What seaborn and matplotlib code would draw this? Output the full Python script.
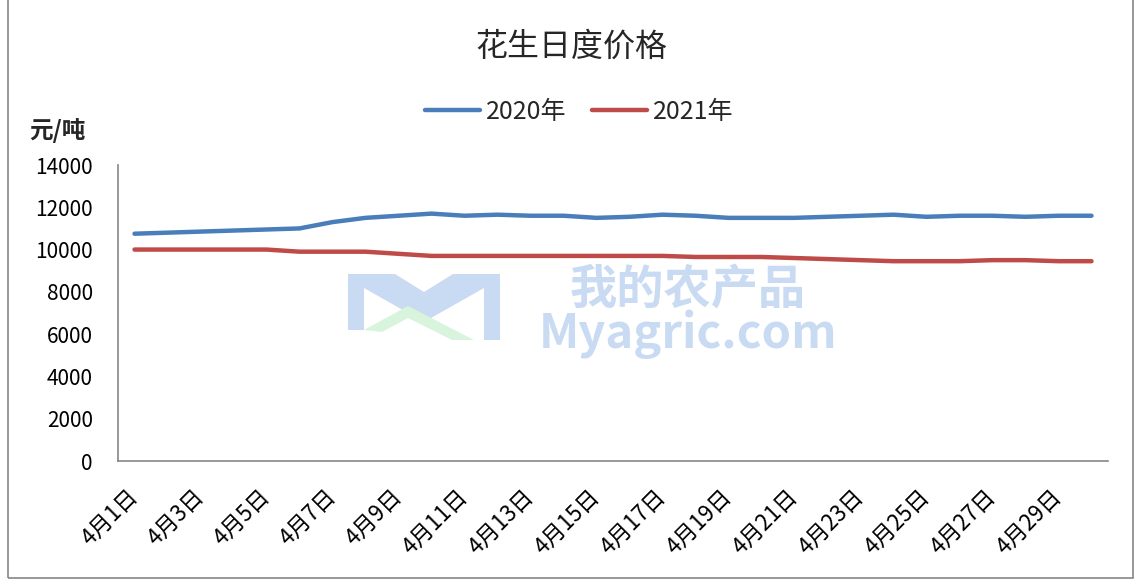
import pandas as pd
import matplotlib.pyplot as plt
import seaborn as sns
from matplotlib.patches import Rectangle, Polygon

# 4月1日 .. 4月30日
dates = [f"4月{d}日" for d in range(1, 31)]

price_2020 = [10750, 10800, 10850, 10900, 10950, 11000, 11300, 11500, 11600, 11700,
              11600, 11650, 11600, 11600, 11500, 11550, 11650, 11600, 11500, 11500,
              11500, 11550, 11600, 11650, 11550, 11600, 11600, 11550, 11600, 11600]
price_2021 = [10000, 10000, 10000, 10000, 10000, 9900, 9900, 9900, 9800, 9700,
              9700, 9700, 9700, 9700, 9700, 9700, 9700, 9650, 9650, 9650,
              9600, 9550, 9500, 9450, 9450, 9450, 9500, 9500, 9450, 9450]

df = pd.DataFrame({
    'idx': list(range(len(dates))) * 2,
    'price': price_2020 + price_2021,
    'year': ['2020年'] * len(dates) + ['2021年'] * len(dates),
})

sns.set_theme(style="white")
plt.rcParams['font.family'] = ['Noto Sans CJK SC', 'DejaVu Sans']

W, H = 1142, 583
fig = plt.figure(figsize=(W / 100, H / 100), dpi=100)

# watermark (logo + text), drawn behind everything
def px(x, y):
    return (x / W, 1 - y / H)

wm_blue = '#c9dbf3'
fig.patches.append(Polygon([px(348, 274), px(395, 274), px(424, 292), px(453, 274), px(500, 274),
                            px(500, 340), px(484, 340), px(484, 288), px(424, 322),
                            px(364, 288), px(364, 330), px(348, 330)],
                           closed=True, transform=fig.transFigure, facecolor=wm_blue,
                           edgecolor='none', zorder=0))
fig.patches.append(Polygon([px(364, 330), px(408, 306), px(474, 340), px(452, 340),
                            px(408, 318), px(382, 332)],
                           closed=True, transform=fig.transFigure, facecolor='#d9f4dc',
                           edgecolor='none', zorder=0))
fig.text(688 / W, 1 - 312 / H, '我的农产品\nMyagric.com', fontsize=34, color=wm_blue,
         ha='center', va='center', multialignment='center', linespacing=0.9,
         fontweight='bold', zorder=0)

ax = fig.add_axes([118 / W, 1 - 461 / H, 990 / W, 296 / H])
ax.patch.set_alpha(0)

sns.lineplot(data=df, x='idx', y='price', hue='year',
             palette={'2020年': '#4a7ebb', '2021年': '#be4b48'},
             linewidth=3.2, ax=ax, legend=False)

ax.set_xlim(-0.5, len(dates) - 0.5)
ax.set_ylim(0, 14000)
ax.set_yticks(range(0, 14001, 2000))
ax.set_yticklabels([str(v) for v in range(0, 14001, 2000)], fontsize=15)
ax.set_xticks(range(0, len(dates), 2))
ax.set_xticklabels(dates[::2], fontsize=16, rotation=45, ha='right', va='center',
                   rotation_mode='anchor')
ax.tick_params(axis='y', length=0, pad=18, colors='black')
ax.tick_params(axis='x', length=0, pad=23, colors='black')
ax.set_xlabel('')
ax.set_ylabel('')
for s in ['top', 'right']:
    ax.spines[s].set_visible(False)
for s in ['left', 'bottom']:
    ax.spines[s].set_color('#868686')
    ax.spines[s].set_linewidth(1.2)

fig.text(0.50, 1 - 47 / H, '花生日度价格', fontsize=23, ha='center', va='center')
fig.text(29 / W, 1 - 131 / H, '元/吨', fontsize=17, fontweight='bold', ha='left', va='center')

handles = [plt.Line2D([], [], color='#4a7ebb', lw=3.2),
           plt.Line2D([], [], color='#be4b48', lw=3.2)]
fig.legend(handles, ['2020年', '2021年'], loc='center', bbox_to_anchor=(579 / W, 1 - 112 / H),
           ncol=2, frameon=False, fontsize=18, handlelength=2.2, handletextpad=0.25,
           columnspacing=1.0)

fig.patches.append(Rectangle((8 / W, 5 / H), 1125 / W, 580 / H,
                             transform=fig.transFigure, fill=False,
                             edgecolor='#868686', linewidth=1.2))

fig.savefig('out.png', dpi=100)
